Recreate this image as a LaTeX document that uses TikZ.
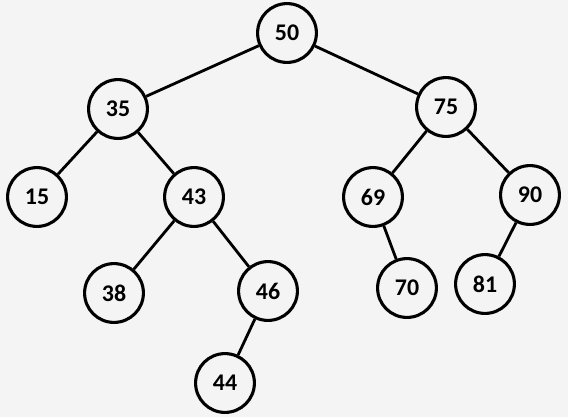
\documentclass[tikz,border=0pt]{standalone}
\usepackage{fontspec}
\setmainfont{Carlito}
\usetikzlibrary{positioning, backgrounds}
\definecolor{treegray}{RGB}{244,244,244}
\tikzset{
  keynode/.style={
    circle, draw=black, line width=2.2pt, fill=treegray,
    minimum size=1.47cm, inner sep=0pt,
    font=\fontsize{17}{20}\selectfont\bfseries
  },
  treeedge/.style={line width=2pt, draw=black}
}

\begin{document}
\begin{tikzpicture}[x=0.025cm, y=-0.025cm]

\useasboundingbox (0,0) rectangle (568,417);

% root and first level
\node[keynode] (n50) at (287,33) {50};
\node[keynode] (n35) at (118,109) {35};
\node[keynode] (n75) at (446,107) {75};

% second level
\node[keynode] (n15) at (37,197) {15};
\node[keynode] (n43) at (194,197) {43};
\node[keynode] (n69) at (373,197) {69};
\node[keynode] (n90) at (530,195) {90};

% third level
\node[keynode] (n38) at (114,293) {38};
\node[keynode] (n46) at (268,291) {46};
\node[keynode] (n70) at (407,288) {70};
\node[keynode] (n81) at (485,284) {81};

% fourth level
\node[keynode] (n44) at (225,383) {44};

\begin{scope}[on background layer]
\fill[treegray] (0,0) rectangle (568,417);
\draw[treeedge] (n50) -- (n35);
\draw[treeedge] (n50) -- (n75);
\draw[treeedge] (n35) -- (n15);
\draw[treeedge] (n35) -- (n43);
\draw[treeedge] (n75) -- (n69);
\draw[treeedge] (n75) -- (n90);
\draw[treeedge] (n43) -- (n38);
\draw[treeedge] (n43) -- (n46);
\draw[treeedge] (n69) -- (n70);
\draw[treeedge] (n90) -- (n81);
\draw[treeedge] (n46) -- (n44);
\end{scope}

\end{tikzpicture}
\end{document}
